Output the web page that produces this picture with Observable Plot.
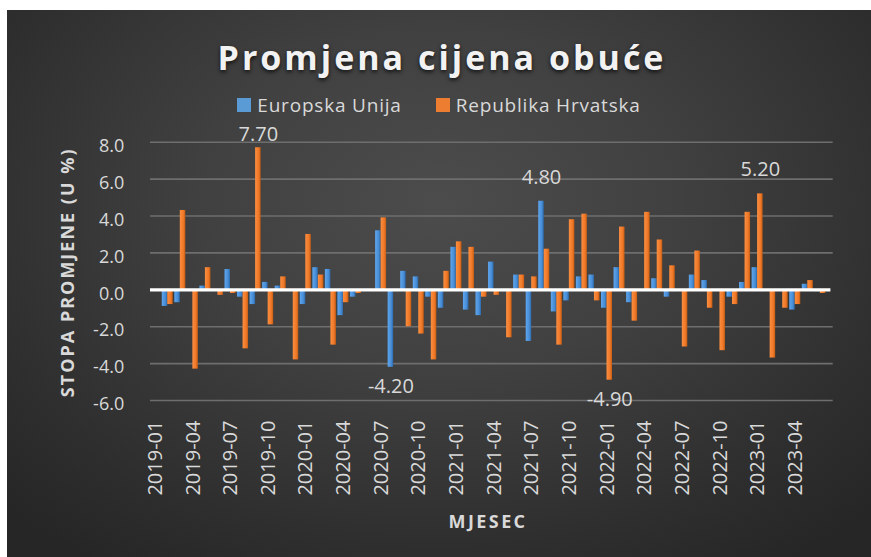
<!DOCTYPE html>
<html>
<head>
<meta charset="utf-8">
<script src="https://cdn.jsdelivr.net/npm/d3@7"></script>
<script src="https://cdn.jsdelivr.net/npm/@observablehq/plot@0.6"></script>
<style>
  html, body { margin: 0; padding: 0; background: #ffffff; }
  body { width: 871px; height: 557px; overflow: hidden; position: relative; font-family: "Open Sans", sans-serif; }
  #panel {
    position: absolute; left: 7px; top: 10px; width: 864px; height: 547px; overflow: hidden;
    background: radial-gradient(ellipse 70% 80% at 50% 35%, #4c4c4c 0%, #404040 40%, #2e2e2e 80%, #262626 100%);
  }
  #title {
    height: 46px; padding-top: 30px; padding-left: 6px; line-height: 34px; font-size: 34px; font-weight: 700;
    letter-spacing: 3px; color: #f2f2f2; text-align: center; white-space: nowrap;
    text-shadow: 0 2px 4px rgba(0,0,0,0.75);
  }
  #legend {
    height: 30px; padding-top: 4px; display: flex; justify-content: center; align-items: center;
    font-size: 19px; line-height: 19px; color: #d9d9d9; letter-spacing: 0.8px; white-space: nowrap;
  }
  .item { display: flex; align-items: center; }
  .item + .item { margin-left: 34px; }
  .sw { width: 14px; height: 14px; margin-right: 6px; }
  #chart svg { display: block; }
</style>
</head>
<body>
<div id="panel">
  <div id="title">Promjena cijena obuće</div>
  <div id="legend"></div>
  <div id="chart"></div>
</div>
<script>
// ---- Data ----
const months = [
  "2019-01","2019-02","2019-03","2019-04","2019-05","2019-06","2019-07","2019-08","2019-09","2019-10","2019-11","2019-12",
  "2020-01","2020-02","2020-03","2020-04","2020-05","2020-06","2020-07","2020-08","2020-09","2020-10","2020-11","2020-12",
  "2021-01","2021-02","2021-03","2021-04","2021-05","2021-06","2021-07","2021-08","2021-09","2021-10","2021-11","2021-12",
  "2022-01","2022-02","2022-03","2022-04","2022-05","2022-06","2022-07","2022-08","2022-09","2022-10","2022-11","2022-12",
  "2023-01","2023-02","2023-03","2023-04","2023-05","2023-06"
];
const euValues = [
  null, -0.9, -0.7, 0.0, 0.2, 0.0, 1.1, -0.4, -0.8, 0.4, 0.2, 0.0,
  -0.8, 1.2, 1.1, -1.4, -0.4, 0.0, 3.2, -4.2, 1.0, 0.7, -0.4, -1.0,
  2.3, -1.1, -1.4, 1.5, -0.1, 0.8, -2.8, 4.8, -1.2, -0.6, 0.7, 0.8,
  -1.0, 1.2, -0.7, 0.0, 0.6, -0.4, 0.0, 0.8, 0.5, 0.0, -0.4, 0.4,
  1.2, 0.0, 0.0, -1.1, 0.3, -0.1
];
const hrValues = [
  null, -0.8, 4.3, -4.3, 1.2, -0.3, -0.2, -3.2, 7.7, -1.9, 0.7, -3.8,
  3.0, 0.8, -3.0, -0.7, -0.2, 0.0, 3.9, 0.0, -2.0, -2.4, -3.8, 1.0,
  2.6, 2.3, -0.4, -0.3, -2.6, 0.8, 0.7, 2.2, -3.0, 3.8, 4.1, -0.6,
  -4.9, 3.4, -1.7, 4.2, 2.7, 1.3, -3.1, 2.1, -1.0, -3.3, -0.8, 4.2,
  5.2, -3.7, -1.0, -0.8, 0.5, -0.2
];
const seriesNames = ["Europska Unija", "Republika Hrvatska"];
const seriesColors = ["#5b9bd5", "#ed7d31"];
const tickLabels = [
  "2019-01","2019-04","2019-07","2019-10","2020-01","2020-04","2020-07","2020-10",
  "2021-01","2021-04","2021-07","2021-10","2022-01","2022-04","2022-07","2022-10",
  "2023-01","2023-04"
];
const yTicks = [-6, -4, -2, 0, 2, 4, 6, 8];
const labelMonths = ["2019-09", "2020-08", "2021-08", "2022-01", "2023-01"];
const labelSeries = ["hr", "eu", "eu", "hr", "hr"];
const yTitle = "STOPA PROMJENE (U %)";
const xTitle = "MJESEC";

// ---- Build tables ----
const data = months.map((m, i) => ({month: m, eu: euValues[i], hr: hrValues[i]}));
const bars = data.filter(d => d.eu != null);
const labelData = labelMonths.map((m, i) => {
  const row = data.find(d => d.month === m);
  return {month: m, series: labelSeries[i], value: row[labelSeries[i]]};
});

// Legend
const legend = document.getElementById("legend");
seriesNames.forEach((name, i) => {
  const it = document.createElement("div");
  it.className = "item";
  it.innerHTML = `<div class="sw" style="background:${seriesColors[i]}"></div><span>${name}</span>`;
  legend.appendChild(it);
});

// Gradient definitions for the bars
const defs = () => {
  const ns = "http://www.w3.org/2000/svg";
  const d = document.createElementNS(ns, "defs");
  d.innerHTML =
    `<linearGradient id="gBlue" x1="0" x2="1" y1="0" y2="0">
       <stop offset="0" stop-color="#5ea6ee"/><stop offset="0.65" stop-color="#478dd6"/><stop offset="1" stop-color="#2c68a8"/>
     </linearGradient>
     <linearGradient id="gOrange" x1="0" x2="1" y1="0" y2="0">
       <stop offset="0" stop-color="#fb8e40"/><stop offset="0.65" stop-color="#ef7828"/><stop offset="1" stop-color="#c45c12"/>
     </linearGradient>`;
  return d;
};

// Labels stay inside the plot area (as the spreadsheet does): clamp at the top
const yMax = yTicks[yTicks.length - 1];
const labelMark = (series, sign, dx) => Plot.text(
  labelData.filter(d => d.series === series && Math.sign(d.value) === sign),
  {
    x: "month", y: d => Math.min(d.value, yMax - 0.9), text: d => d.value.toFixed(2),
    dx, dy: sign > 0 ? -24 : 19, lineAnchor: "middle",
    fontSize: 20, fill: "#d9d9d9"
  }
);

const chart = Plot.plot({
  width: 864, height: 437,
  marginTop: 21.7, marginBottom: 157, marginLeft: 141.7, marginRight: 44.6,
  style: {background: "transparent", color: "#d9d9d9", fontFamily: "'Open Sans', sans-serif", overflow: "visible"},
  x: {type: "band", domain: months, padding: 0, round: false, axis: null},
  y: {domain: [-6, 8], axis: null},
  marks: [
    defs,
    Plot.ruleY(yTicks.filter(v => v !== 0), {stroke: "#6e6e6e", strokeWidth: 1.6, insetLeft: 1.3, insetRight: -6.3}),
    Plot.barY(bars, {x: "month", y: "eu", fill: "url(#gBlue)", insetLeft: 0.5, insetRight: 6.55}),
    Plot.barY(bars, {x: "month", y: "hr", fill: "url(#gOrange)", insetLeft: 6, insetRight: 1.05}),
    Plot.ruleY([0], {stroke: "#ffffff", strokeWidth: 3.3, insetLeft: 1.3, insetRight: -4}),
    Plot.axisX({ticks: tickLabels, tickSize: 0, tickPadding: 20, tickRotate: -90, fontSize: 20, label: null}),
    Plot.axisY({ticks: yTicks, tickSize: 0, tickPadding: 25, tickFormat: v => v.toFixed(1), fontSize: 18, dy: 4, label: null}),
    Plot.text([yTitle], {frameAnchor: "left", textAnchor: "middle", lineAnchor: "middle", rotate: -90, dx: -80.7, dy: 1, fontSize: 18, fontWeight: 700, fill: "#d9d9d9"}),
    Plot.text([xTitle], {frameAnchor: "bottom", textAnchor: "middle", lineAnchor: "middle", dy: 122, fontSize: 18, fontWeight: 700, fill: "#d9d9d9"}),
    labelMark("eu", 1, -3), labelMark("eu", -1, -3),
    labelMark("hr", 1, 2.5), labelMark("hr", -1, 2.5)
  ]
});

chart.querySelectorAll("text").forEach(t => {
  if (t.textContent === yTitle) t.style.letterSpacing = "2px";
  if (t.textContent === xTitle) t.style.letterSpacing = "2.4px";
});
document.getElementById("chart").appendChild(chart);
</script>
</body>
</html>
